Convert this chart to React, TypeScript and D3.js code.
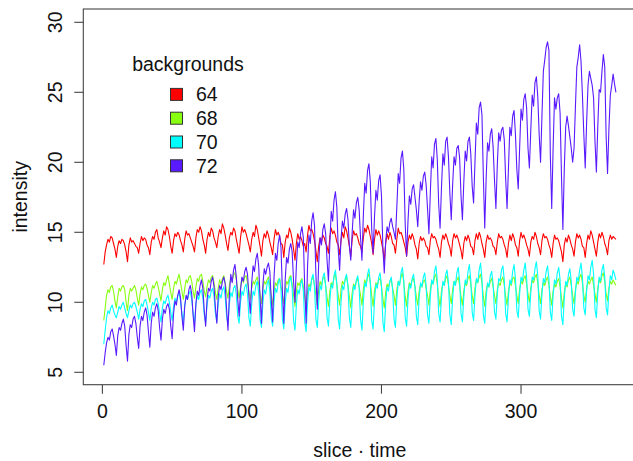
import React, { useEffect, useRef } from "react";
import * as d3 from "d3";

// intensity per slice·time point (8 slices x 46 times)
const bg64 = [
  12.7, 13.6, 14.1, 14.5, 14.3, 14.7, 14.6, 14.2,
  13.8, 13.2, 14.0, 14.4, 14.2, 14.5, 14.4, 14.1,
  13.6, 12.9, 14.1, 14.6, 14.3, 14.4, 14.2, 14.0,
  13.9, 13.5, 14.2, 14.7, 14.4, 14.6, 14.5, 14.1,
  13.9, 13.4, 14.3, 14.7, 14.5, 15.0, 15.2, 14.6,
  14.3, 13.9, 14.6, 15.1, 14.8, 15.4, 15.2, 14.7,
  14.0, 13.5, 14.4, 14.9, 14.7, 15.0, 14.8, 14.4,
  14.1, 13.6, 14.5, 15.1, 14.8, 14.9, 14.6, 14.3,
  14.0, 13.6, 14.6, 15.2, 15.0, 15.4, 15.1, 14.5,
  14.1, 13.5, 14.5, 15.0, 14.7, 15.3, 15.1, 14.6,
  14.3, 13.9, 14.7, 15.2, 14.9, 15.6, 15.3, 14.8,
  14.2, 13.7, 14.6, 15.0, 14.8, 15.3, 15.1, 14.5,
  14.0, 13.5, 14.6, 15.4, 15.0, 15.2, 14.9, 14.5,
  14.1, 13.6, 14.5, 15.0, 14.7, 15.5, 15.2, 14.6,
  14.0, 13.3, 14.4, 14.9, 14.6, 15.1, 14.8, 14.3,
  13.9, 13.4, 14.5, 15.2, 14.8, 15.0, 14.7, 14.2,
  14.1, 13.2, 14.3, 14.8, 14.6, 15.3, 15.0, 14.5,
  13.8, 13.0, 14.2, 14.9, 14.5, 14.7, 14.4, 14.0,
  14.2, 13.6, 14.8, 15.5, 15.1, 15.2, 14.9, 14.4,
  13.7, 12.9, 14.0, 14.6, 14.3, 14.8, 14.6, 14.2,
  14.0, 13.5, 14.7, 15.3, 14.9, 15.1, 14.8, 14.3,
  14.1, 13.4, 14.4, 15.0, 14.6, 15.4, 15.1, 14.6,
  14.0, 13.3, 14.5, 15.1, 14.8, 14.9, 14.6, 14.2,
  14.0, 13.6, 14.6, 15.3, 15.0, 15.5, 15.2, 14.7,
  14.2, 13.4, 14.5, 15.2, 14.8, 15.1, 14.8, 14.3,
  13.8, 13.0, 14.2, 14.9, 14.5, 15.0, 14.7, 14.2,
  14.1, 13.5, 14.5, 15.3, 14.9, 15.0, 14.7, 14.3,
  13.9, 13.3, 14.3, 14.8, 14.5, 14.9, 14.6, 14.1,
  13.8, 13.1, 14.2, 14.7, 14.4, 14.6, 14.4, 14.0,
  13.9, 13.4, 14.4, 14.9, 14.6, 14.7, 14.5, 14.1,
  13.8, 13.2, 14.3, 14.8, 14.5, 14.9, 14.6, 14.2,
  13.9, 13.3, 14.4, 14.9, 14.6, 14.8, 14.5, 14.1,
  13.7, 13.1, 14.2, 14.7, 14.4, 14.8, 14.5, 14.0,
  13.9, 13.4, 14.4, 14.9, 14.5, 15.0, 14.7, 14.2,
  13.8, 13.2, 14.3, 14.8, 14.5, 14.6, 14.4, 14.0,
  13.9, 13.4, 14.3, 14.9, 14.6, 14.7, 14.5, 14.1,
  13.8, 13.2, 14.2, 14.8, 14.4, 14.9, 14.6, 14.1,
  13.9, 13.3, 14.4, 15.0, 14.6, 14.8, 14.5, 14.1,
  13.8, 13.3, 14.3, 14.7, 14.5, 15.0, 14.7, 14.2,
  13.9, 13.4, 14.4, 14.9, 14.6, 14.7, 14.5, 14.1,
  13.8, 13.2, 14.2, 14.8, 14.5, 14.6, 14.4, 14.0,
  13.6, 12.9, 14.1, 14.6, 14.3, 14.8, 14.5, 14.1,
  13.8, 13.3, 14.3, 14.9, 14.6, 14.8, 14.5, 14.0,
  13.9, 13.2, 14.2, 14.8, 14.5, 15.1, 14.8, 14.3,
  13.8, 13.3, 14.3, 14.9, 14.6, 15.0, 14.7, 14.2,
  13.9, 13.4, 14.4, 14.8, 14.5, 14.7, 14.6, 14.5,
];

const bg68 = [
  8.7, 9.6, 10.5, 10.9, 10.7, 11.1, 11.2, 10.8,
  10.1, 9.6, 10.4, 11.0, 10.8, 11.1, 11.2, 10.9,
  10.0, 9.4, 10.5, 11.0, 10.8, 11.0, 11.2, 10.9,
  10.3, 9.8, 10.6, 11.1, 10.9, 11.2, 11.3, 11.0,
  10.5, 10.0, 10.7, 11.2, 11.0, 11.3, 11.5, 11.1,
  10.6, 10.1, 10.9, 11.4, 11.2, 11.6, 11.9, 11.3,
  10.7, 10.2, 11.0, 11.5, 11.3, 11.7, 12.0, 11.4,
  10.8, 10.2, 11.0, 11.6, 11.4, 11.8, 11.9, 11.5,
  10.8, 10.3, 11.1, 11.7, 11.5, 11.9, 12.0, 11.5,
  10.8, 10.4, 11.1, 11.6, 11.4, 11.8, 11.9, 11.4,
  10.7, 10.2, 11.0, 11.6, 11.3, 11.7, 11.9, 11.4,
  10.8, 10.3, 11.2, 11.8, 11.5, 12.0, 12.1, 11.6,
  10.9, 10.3, 11.1, 11.7, 11.4, 11.8, 11.9, 11.4,
  10.8, 10.2, 11.0, 11.5, 11.3, 11.6, 11.8, 11.3,
  10.6, 9.9, 10.9, 11.5, 11.3, 11.6, 11.8, 11.2,
  10.5, 9.8, 10.8, 11.4, 11.2, 11.6, 11.7, 11.1,
  10.6, 9.9, 10.9, 11.5, 11.3, 11.8, 11.9, 11.3,
  10.5, 9.7, 10.8, 11.4, 11.2, 11.5, 11.7, 11.1,
  10.4, 9.6, 10.7, 11.3, 11.1, 11.6, 11.8, 11.2,
  10.5, 9.8, 10.9, 11.5, 11.2, 11.7, 11.8, 11.2,
  10.4, 9.7, 10.8, 11.4, 11.2, 11.8, 12.0, 11.3,
  10.5, 9.8, 10.9, 11.5, 11.3, 11.6, 11.8, 11.2,
  10.4, 9.6, 10.7, 11.3, 11.1, 11.5, 11.7, 11.1,
  10.5, 9.8, 10.9, 11.6, 11.3, 11.8, 12.0, 11.4,
  10.5, 9.7, 10.8, 11.4, 11.2, 11.6, 11.7, 11.1,
  10.3, 9.6, 10.7, 11.3, 11.1, 11.5, 11.6, 11.0,
  10.5, 9.8, 10.9, 11.5, 11.3, 11.8, 12.1, 11.4,
  10.4, 9.7, 10.8, 11.4, 11.2, 11.6, 11.7, 11.1,
  10.4, 9.8, 10.8, 11.3, 11.1, 11.5, 11.6, 11.0,
  10.5, 9.8, 10.9, 11.5, 11.3, 11.8, 12.0, 11.3,
  10.4, 9.7, 10.8, 11.4, 11.2, 11.7, 11.9, 11.2,
  10.5, 9.9, 10.9, 11.5, 11.3, 11.6, 11.8, 11.2,
  10.4, 9.8, 10.8, 11.4, 11.2, 11.7, 11.9, 11.3,
  10.5, 9.9, 11.0, 11.6, 11.4, 11.8, 12.0, 11.4,
  10.4, 9.7, 10.8, 11.3, 11.1, 11.5, 11.7, 11.1,
  10.5, 9.9, 10.9, 11.4, 11.2, 11.6, 11.8, 11.2,
  10.4, 9.8, 10.8, 11.4, 11.2, 11.7, 11.8, 11.2,
  10.5, 9.9, 11.0, 11.5, 11.3, 11.7, 11.9, 11.3,
  10.6, 10.0, 11.0, 11.6, 11.4, 11.8, 12.0, 11.4,
  10.5, 9.9, 10.9, 11.4, 11.2, 11.6, 11.8, 11.2,
  10.4, 9.8, 10.8, 11.3, 11.1, 11.5, 11.7, 11.1,
  10.3, 9.6, 10.7, 11.3, 11.1, 11.6, 11.8, 11.2,
  10.5, 9.9, 10.9, 11.5, 11.3, 11.8, 12.0, 11.4,
  10.5, 10.0, 11.0, 11.5, 11.3, 11.6, 11.8, 11.2,
  10.6, 10.0, 11.0, 11.6, 11.4, 11.9, 12.1, 11.5,
  10.6, 10.1, 11.0, 11.5, 11.3, 11.6, 11.4, 11.2,
];

const bg70 = [
  7.0, 8.0, 8.9, 9.4, 9.2, 9.6, 9.8, 9.4,
  9.1, 8.9, 9.3, 9.7, 9.5, 9.8, 10.0, 9.6,
  9.2, 8.9, 9.4, 9.8, 9.6, 9.9, 10.0, 9.7,
  9.3, 8.8, 9.5, 9.9, 9.7, 10.1, 10.2, 9.8,
  9.3, 8.7, 9.6, 10.0, 9.8, 10.2, 10.3, 9.9,
  9.2, 8.6, 9.6, 10.1, 9.9, 10.3, 10.5, 10.0,
  9.3, 8.7, 9.7, 10.3, 10.0, 10.5, 10.6, 10.1,
  9.2, 8.6, 9.8, 10.4, 10.2, 10.6, 10.8, 10.2,
  9.2, 8.5, 9.8, 10.5, 10.2, 10.7, 10.9, 10.3,
  9.1, 8.5, 9.8, 10.5, 10.3, 10.8, 11.0, 10.4,
  9.2, 8.6, 9.9, 10.6, 10.3, 10.9, 11.1, 10.4,
  9.0, 8.4, 9.9, 10.7, 10.4, 11.0, 11.2, 10.5,
  9.0, 8.5, 10.0, 10.8, 10.5, 11.1, 11.3, 10.6,
  8.9, 8.3, 9.9, 10.8, 10.5, 11.2, 11.5, 10.7,
  8.8, 8.2, 9.9, 10.9, 10.6, 11.3, 11.6, 10.8,
  8.9, 8.3, 10.0, 11.0, 10.7, 11.4, 11.7, 10.9,
  8.8, 8.1, 9.9, 11.0, 10.7, 11.5, 11.8, 11.0,
  8.7, 8.0, 9.8, 10.9, 10.6, 11.3, 11.6, 10.8,
  8.6, 7.9, 9.9, 11.1, 10.8, 11.7, 12.0, 11.1,
  8.8, 8.2, 10.0, 11.2, 10.9, 11.8, 12.1, 11.2,
  8.9, 8.3, 10.1, 11.3, 11.0, 11.9, 12.3, 11.3,
  8.8, 8.1, 10.0, 11.2, 10.9, 11.7, 12.0, 11.1,
  8.9, 8.2, 10.1, 11.2, 10.9, 11.6, 11.9, 11.0,
  8.8, 8.0, 10.0, 11.4, 11.1, 12.0, 12.4, 11.4,
  8.7, 8.1, 10.1, 11.3, 11.0, 11.8, 12.1, 11.2,
  8.6, 7.9, 9.9, 11.1, 10.8, 11.5, 11.8, 10.9,
  8.8, 8.2, 10.2, 11.5, 11.2, 12.1, 12.5, 11.5,
  8.9, 8.3, 10.2, 11.3, 11.0, 11.7, 12.0, 11.1,
  9.0, 8.4, 10.3, 11.4, 11.1, 11.8, 12.1, 11.2,
  9.1, 8.5, 10.4, 11.6, 11.3, 12.2, 12.6, 11.6,
  9.2, 8.6, 10.4, 11.5, 11.2, 12.0, 12.3, 11.4,
  9.1, 8.4, 10.3, 11.5, 11.2, 12.1, 12.5, 11.5,
  9.2, 8.6, 10.4, 11.6, 11.3, 12.2, 12.7, 11.6,
  9.3, 8.7, 10.5, 11.7, 11.4, 12.3, 12.8, 11.7,
  9.1, 8.5, 10.3, 11.4, 11.1, 11.9, 12.2, 11.3,
  9.3, 8.8, 10.6, 11.7, 11.5, 12.3, 12.6, 11.6,
  9.2, 8.6, 10.4, 11.6, 11.3, 12.2, 12.7, 11.7,
  9.4, 8.9, 10.6, 11.8, 11.5, 12.3, 12.8, 11.8,
  9.5, 9.0, 10.7, 11.8, 11.6, 12.4, 12.9, 11.9,
  9.4, 8.8, 10.6, 11.7, 11.4, 12.2, 12.6, 11.7,
  9.3, 8.7, 10.5, 11.6, 11.3, 12.1, 12.5, 11.6,
  9.0, 8.4, 10.3, 11.5, 11.2, 12.0, 12.4, 11.5,
  9.5, 9.0, 10.7, 11.8, 11.5, 12.3, 12.8, 11.8,
  9.6, 9.1, 10.8, 11.9, 11.6, 12.5, 13.0, 12.0,
  9.5, 8.9, 10.7, 11.8, 11.5, 12.3, 12.7, 11.8,
  9.6, 9.1, 10.8, 11.9, 11.6, 12.3, 12.0, 11.6,
];

const bg72 = [
  5.5, 6.4, 7.1, 7.5, 7.3, 7.9, 8.1, 7.6,
  7.0, 6.2, 7.6, 8.2, 8.0, 8.5, 8.8, 8.3,
  6.9, 5.8, 7.7, 8.4, 8.2, 8.8, 9.0, 8.5,
  7.5, 6.7, 8.3, 9.0, 8.7, 9.3, 9.6, 9.1,
  7.9, 6.8, 8.5, 9.3, 9.0, 9.6, 9.9, 9.4,
  8.2, 7.3, 8.8, 9.5, 9.2, 9.7, 9.9, 9.5,
  8.3, 7.4, 9.2, 10.1, 9.8, 10.5, 10.9, 10.3,
  9.0, 8.0, 9.7, 10.5, 10.2, 10.9, 11.2, 10.6,
  9.1, 7.9, 9.9, 10.8, 10.5, 11.2, 11.6, 11.0,
  9.4, 8.3, 10.2, 11.0, 10.8, 11.5, 11.8, 11.1,
  9.6, 8.5, 10.4, 11.2, 10.9, 11.5, 11.8, 11.3,
  9.5, 8.0, 10.5, 12.0, 11.4, 12.3, 12.7, 11.8,
  10.2, 9.0, 10.9, 11.8, 11.5, 12.2, 12.5, 12.0,
  10.4, 9.2, 11.4, 12.6, 12.2, 13.1, 13.5, 12.6,
  10.3, 8.5, 11.2, 12.4, 12.0, 12.5, 12.8, 12.2,
  10.2, 8.6, 11.8, 13.5, 13.0, 14.2, 14.8, 13.9,
  10.8, 8.5, 11.6, 13.2, 12.8, 13.8, 14.2, 13.6,
  11.5, 10.0, 12.6, 14.3, 13.9, 14.9, 15.4, 14.6,
  11.0, 8.5, 12.5, 14.8, 14.2, 15.8, 16.4, 15.5,
  12.0, 9.5, 12.8, 14.6, 14.1, 15.2, 15.6, 14.9,
  13.0, 11.5, 14.2, 16.5, 15.8, 17.3, 17.9, 16.8,
  13.8, 12.3, 14.5, 15.8, 15.3, 16.3, 16.7, 15.9,
  14.0, 13.0, 15.0, 16.6, 16.0, 17.1, 17.5, 16.6,
  14.6, 13.0, 16.2, 18.5, 17.8, 19.4, 19.9, 18.6,
  15.2, 13.5, 16.1, 18.0, 17.3, 18.7, 19.1, 17.6,
  13.9, 12.1, 14.3, 15.4, 15.0, 15.7, 16.0, 15.4,
  15.0, 14.5, 16.8, 19.2, 18.5, 20.3, 20.8, 19.5,
  15.6, 13.3, 15.8, 17.6, 17.0, 18.1, 18.4, 17.5,
  16.6, 15.4, 17.2, 18.6, 18.0, 19.0, 19.3, 18.4,
  16.7, 14.9, 17.8, 20.4, 19.6, 21.3, 21.7, 20.2,
  17.0, 15.3, 18.2, 20.6, 19.8, 21.5, 21.8, 20.4,
  17.8, 15.9, 18.4, 20.4, 19.8, 21.0, 21.2, 20.3,
  17.6, 15.9, 18.6, 20.8, 20.1, 21.5, 21.8, 20.6,
  18.3, 17.1, 20.0, 22.8, 22.0, 23.9, 24.3, 23.4,
  19.0, 15.3, 18.8, 21.4, 20.8, 22.0, 22.4, 21.1,
  18.7, 16.7, 19.8, 22.1, 21.5, 22.3, 22.5, 21.6,
  18.8, 16.7, 19.6, 22.5, 21.9, 23.3, 23.7, 22.0,
  19.5, 18.1, 21.0, 23.8, 23.0, 24.5, 24.9, 23.9,
  21.0, 19.6, 22.3, 24.8, 24.0, 25.7, 26.1, 24.7,
  22.0, 20.0, 23.3, 26.5, 27.3, 28.2, 28.6, 28.0,
  20.5, 16.7, 21.0, 24.6, 23.8, 24.6, 24.9, 23.5,
  19.0, 15.2, 19.5, 22.5, 23.3, 22.6, 21.8, 21.0,
  20.0, 21.0, 24.0, 26.8, 27.5, 28.4, 27.2, 24.8,
  22.0, 19.6, 22.8, 25.5, 26.5, 26.0, 25.5, 24.6,
  21.5, 19.3, 22.5, 25.2, 25.0, 26.5, 27.7, 26.8,
  21.8, 19.2, 22.4, 24.8, 25.5, 26.3, 25.6, 25.0,
];

const backgrounds = ["64", "68", "70", "72"];
const seriesColors = ["#FF0000", "#88FF11", "#00FFFF", "#5A1AFF"];
const xTicks = [0, 100, 200, 300];
const yTicks = [5, 10, 15, 20, 25, 30];

const App = () => {
  const svgRef = useRef<SVGSVGElement>(null);

  useEffect(() => {
    const width = 633;
    const height = 461;
    // plot region in pixels
    const left = 83.3, right = 636.4, top = 9, bottom = 384.7;
    const font = '"Liberation Sans", Arial, Helvetica, sans-serif';
    const series = [bg64, bg68, bg70, bg72];

    const svg = d3.select(svgRef.current);
    svg.selectAll("*").remove();
    svg.attr("width", width).attr("height", height);

    const n = bg64.length;
    const pad = (n - 1) * 0.04;
    const x = d3.scaleLinear().domain([1 - pad, n + pad]).range([left, right]);
    const y = d3.scaleLinear().domain([4.114, 30.95]).range([bottom, top]);

    svg.append("rect").attr("width", width).attr("height", height).attr("fill", "#fff");

    // lines
    const line = d3.line<number>()
      .x((_, i) => x(i + 1))
      .y(d => y(d));

    series.forEach((s, k) => {
      svg.append("path")
        .datum(s)
        .attr("d", line)
        .attr("fill", "none")
        .attr("stroke", seriesColors[k])
        .attr("stroke-width", 1.1)
        .attr("stroke-linejoin", "round");
    });

    // box
    svg.append("rect")
      .attr("x", left).attr("y", top)
      .attr("width", right - left).attr("height", bottom - top)
      .attr("fill", "none")
      .attr("stroke", "#444")
      .attr("stroke-width", 1.1);

    // x axis
    const gx = svg.append("g");
    xTicks.forEach(t => {
      gx.append("line")
        .attr("x1", x(t)).attr("x2", x(t))
        .attr("y1", bottom).attr("y2", bottom + 9)
        .attr("stroke", "#444").attr("stroke-width", 1.1);
      gx.append("text")
        .attr("x", x(t)).attr("y", 418)
        .attr("text-anchor", "middle")
        .style("font-family", font).style("font-size", "19.5px")
        .attr("fill", "#111")
        .text(t);
    });

    // y axis
    const gy = svg.append("g");
    yTicks.forEach(t => {
      gy.append("line")
        .attr("x1", left - 9).attr("x2", left)
        .attr("y1", y(t)).attr("y2", y(t))
        .attr("stroke", "#444").attr("stroke-width", 1.1);
      gy.append("text")
        .attr("transform", `translate(61.5,${y(t)}) rotate(-90)`)
        .attr("text-anchor", "middle")
        .style("font-family", font).style("font-size", "19.5px")
        .attr("fill", "#111")
        .text(t);
    });

    // axis titles
    svg.append("text")
      .attr("x", (left + right) / 2).attr("y", 457)
      .attr("text-anchor", "middle")
      .style("font-family", font).style("font-size", "19.5px")
      .attr("fill", "#111")
      .text("slice \u00B7 time");

    svg.append("text")
      .attr("transform", `translate(26.5,${(top + bottom) / 2}) rotate(-90)`)
      .attr("text-anchor", "middle")
      .style("font-family", font).style("font-size", "19.5px")
      .attr("fill", "#111")
      .text("intensity");

    // legend
    const lg = svg.append("g").style("font-family", font).style("font-size", "19.5px");
    lg.append("text")
      .attr("x", 188).attr("y", 70.5)
      .attr("text-anchor", "middle")
      .attr("fill", "#111")
      .text("backgrounds");

    backgrounds.forEach((b, i) => {
      const cy = 94.4 + i * 23.8;
      lg.append("rect")
        .attr("x", 170.5).attr("y", cy - 6)
        .attr("width", 12).attr("height", 12)
        .attr("fill", seriesColors[i])
        .attr("stroke", "#333").attr("stroke-width", 1);
      lg.append("text")
        .attr("x", 196).attr("y", cy + 7)
        .attr("fill", "#111")
        .text(b);
    });
  }, []);

  return (
    <div style={{ position: "absolute", left: 0, top: 0 }}>
      <svg ref={svgRef} style={{ display: "block" }}></svg>
    </div>
  );
};

export default App;
